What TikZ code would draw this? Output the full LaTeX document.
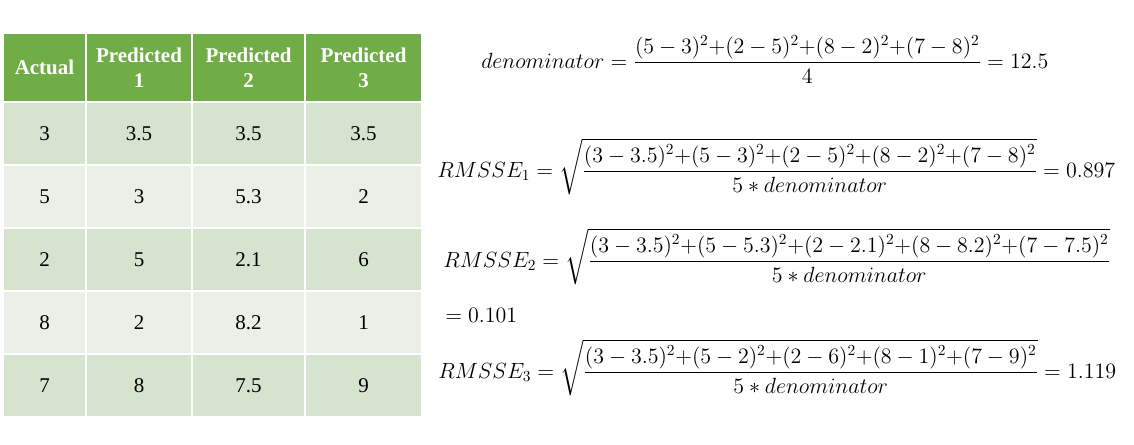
\documentclass[tikz,border=0pt]{standalone}
\usepackage{fix-cm}
\usepackage{amsmath}
\usepackage{fontspec}
\setmainfont{Liberation Serif}
\usepackage{tikz}
\usetikzlibrary{positioning}
\definecolor{headgreen}{HTML}{70AD47}
\definecolor{rowdark}{HTML}{D5E3CF}
\definecolor{rowlight}{HTML}{EAF0E8}
\tikzset{
    %Define style for table cells
    cell/.style={
           rectangle,
           draw=white, line width=1.5pt,
           outer sep=0pt, inner sep=0pt,
           minimum height=47.25pt,
           font=\fontsize{15.75}{18.75}\selectfont,
           align=center},
    head/.style={
           cell,
           fill=headgreen,
           minimum height=51.75pt,
           text=white,
           font=\fontsize{15.75}{18.75}\selectfont\bfseries},
    dark/.style={cell, fill=rowdark},
    light/.style={cell, fill=rowlight},
    % column widths
    c1/.style={minimum width=62.25pt},
    c2/.style={minimum width=79.5pt},
    c3/.style={minimum width=84.75pt},
    c4/.style={minimum width=87.75pt},
    % Define style for equations
    formula/.style={
           anchor=base west,
           inner sep=0pt,
           font=\fontsize{16.5}{20}\selectfont}
}

\begin{document}
\begin{tikzpicture}[x=0.75pt,y=-0.75pt]
\useasboundingbox (0,0) rectangle (1134,444);
% header
\node[head,c1] (h1) at (44.5,67.5) {Actual};
\node[head,c2,right=0pt of h1] (h2) {Predicted\\1};
\node[head,c3,right=0pt of h2] (h3) {Predicted\\2};
\node[head,c4,right=0pt of h3] (h4) {Predicted\\3};
% rows
\node[dark,c1,below=0pt of h1] (a1) {3};
\node[dark,c2,right=0pt of a1] (a2) {3.5};
\node[dark,c3,right=0pt of a2] (a3) {3.5};
\node[dark,c4,right=0pt of a3] (a4) {3.5};
\node[light,c1,below=0pt of a1] (b1) {5};
\node[light,c2,right=0pt of b1] (b2) {3};
\node[light,c3,right=0pt of b2] (b3) {5.3};
\node[light,c4,right=0pt of b3] (b4) {2};
\node[dark,c1,below=0pt of b1] (c1) {2};
\node[dark,c2,right=0pt of c1] (c2) {5};
\node[dark,c3,right=0pt of c2] (c3) {2.1};
\node[dark,c4,right=0pt of c3] (c4) {6};
\node[light,c1,below=0pt of c1] (d1) {8};
\node[light,c2,right=0pt of d1] (d2) {2};
\node[light,c3,right=0pt of d2] (d3) {8.2};
\node[light,c4,right=0pt of d3] (d4) {1};
\node[dark,c1,below=0pt of d1] (e1) {7};
\node[dark,c2,right=0pt of e1] (e2) {8};
\node[dark,c3,right=0pt of e2] (e3) {7.5};
\node[dark,c4,right=0pt of e3] (e4) {9};
% formulas
\node[formula] (den) at (481,68) {$denominator=\dfrac{(5-3)^2{+}(2-5)^2{+}(8-2)^2{+}(7-8)^2}{4}=12.5$};
\node[formula] (rm1) at (437,177) {$RMSSE_1=\sqrt{\dfrac{(3-3.5)^2{+}(5-3)^2{+}(2-5)^2{+}(8-2)^2{+}(7-8)^2}{5\ast denominator}}=0.897$};
\node[formula] (rm2) at (443,267) {$RMSSE_2=\sqrt{\dfrac{(3-3.5)^2{+}(5-5.3)^2{+}(2-2.1)^2{+}(8-8.2)^2{+}(7-7.5)^2}{5\ast denominator}}$};
\node[formula] (val2) at (445,322) {$=0.101$};
\node[formula] (rm3) at (438,378) {$RMSSE_3=\sqrt{\dfrac{(3-3.5)^2{+}(5-2)^2{+}(2-6)^2{+}(8-1)^2{+}(7-9)^2}{5\ast denominator}}=1.119$};
\end{tikzpicture}
\end{document}
